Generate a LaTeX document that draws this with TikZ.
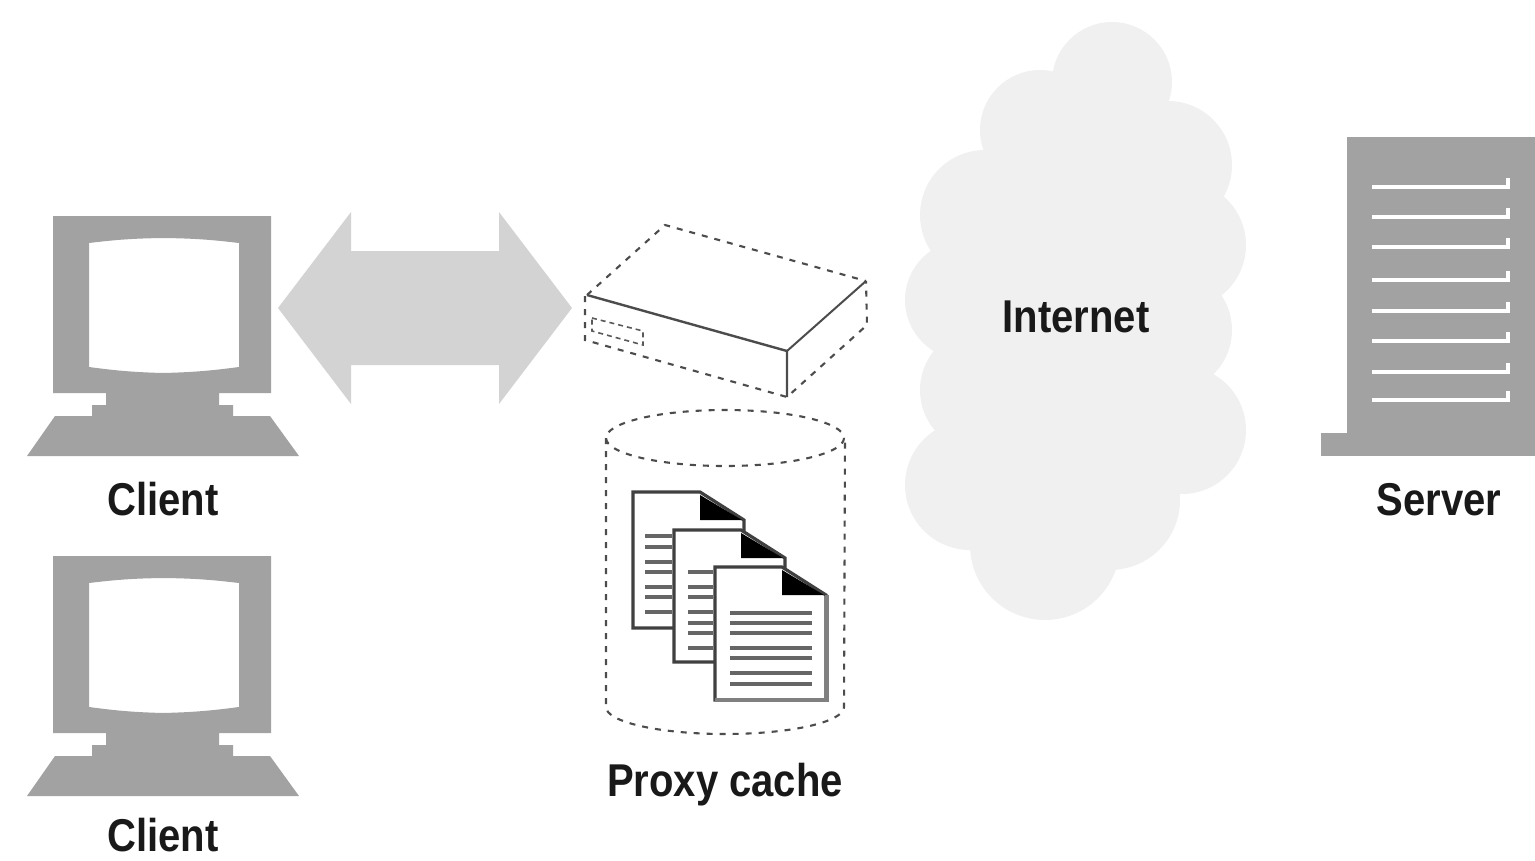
\documentclass[tikz,border=0pt]{standalone}
\usepackage{fontspec}
\newfontfamily\labelfont[FakeStretch=0.87]{Liberation Sans Bold}
\usepackage{tikz}
\usetikzlibrary{positioning}
\definecolor{mygray}{HTML}{A2A2A2}
\definecolor{myarrow}{HTML}{D3D3D3}
\definecolor{mycloud}{HTML}{F0F0F0}
\tikzset{
	label text/.style={font=\labelfont\fontsize{46}{46}\selectfont,inner sep=0pt,text=black!90},
	dash line/.style={line width=2.1pt,dash pattern=on 6pt off 7pt,color=black!70},
	solid edge/.style={line width=2.4pt,color=black!70},
	page edge/.style={line width=3.2pt,draw=black!75,fill=white},
	text bar/.style={line width=3.4pt,color=black!60},
}
\begin{document}
\begin{tikzpicture}[x=1pt,y=-1pt]
	\useasboundingbox (0,0) rectangle (1535,860);
	% clients
	\foreach \dy/\ly/\name in {0/499/clientone,340/495/clienttwo} {
		\begin{scope}[yshift=-\dy pt]
			\fill [mygray,even odd rule] (53,216) -- (271,216) -- (271,393) -- (219,393) -- (219,405) -- (233,405) -- (233,416) -- (270,416) -- (299,456) -- (27,456) -- (55,416) -- (92,416) -- (92,405) -- (106,405) -- (106,393) -- (53,393) -- cycle
				(89,243) to [bend left=3] (163,238) to [bend left=3] (239,243) -- (239,367) to [bend left=3] (163,373) to [bend left=3] (89,367) -- cycle;
			\node [label text] (\name) at (163,\ly) {Client};
		\end{scope}
	}
	% double arrow
	\fill [myarrow] (278,308) -- (351,212) -- (351,251) -- (499,251) -- (499,212) -- (572,308) -- (499,404) -- (499,365) -- (351,365) -- (351,404) -- cycle;
	% proxy box
	\draw [dash line] (587,295) -- (665,225) -- (866,281);
	\draw [dash line] (585,296) -- (585,340) -- (787,397) -- (867,325) -- (866,281);
	\draw [solid edge] (587,295) -- (787,351) -- (787,397);
	\draw [solid edge,line width=2pt] (787,351) -- (866,281);
	\draw [line width=1.6pt,dash pattern=on 5pt off 4pt,color=black!65] (592,318) -- (643,331) -- (643,345) -- (592,331) -- cycle;
	% cache cylinder
	\draw [dash line] (725,438) ellipse [x radius=119,y radius=28];
	\draw [dash line] (606,438) -- (606,707) arc [start angle=180,end angle=360,x radius=119,y radius=-27] -- (845,438);
	% pages
	\foreach \x/\y/\h in {0/0/136,41/38/132,82/75/133} {
		\begin{scope}[xshift=\x pt,yshift=-\y pt]
			\filldraw [page edge] (633,492) -- (700,492) -- (744,520) -- (744,492+\h) -- (633,492+\h) -- cycle;
			\fill [black] (700,495) -- (742,520) -- (700,520) -- cycle;
		\end{scope}
	}
	\draw [draw=black!50,line width=3.4pt] (715,700) -- (827,700) -- (827,595);
	\foreach \y in {536,547,562,572,587,597,612}
		\draw [text bar] (645,\y) -- (672,\y);
	\foreach \y in {572,587,597,612,623,633,648}
		\draw [text bar] (688,\y) -- (713,\y);
	\foreach \y in {613,623,633,648,658,673,684}
		\draw [text bar] (730,\y) -- (812,\y);
	% cloud
	\fill [mycloud] (1000,130) rectangle (1160,540);
	\fill [mycloud] (940,200) rectangle (1200,480);
	\foreach \x/\y/\r in {1112/82/60,1040/130/60,1168/165/64,985/215/65,1182/245/64,965/300/60,1170/330/62,982/390/62,1182/430/64,970/485/65,1110/500/70,1045/545/75}
		\fill [mycloud] (\x,\y) circle (\r pt);
	\node [label text] (internet) at (1076,317) {Internet};
	% server
	\fill [mygray] (1347,137) rectangle (1535,436);
	\fill [mygray] (1321,433) rectangle (1535,456);
	\foreach \y in {187,217,247,280,311,341,372,400}
		\draw [white,line width=4.5pt] (1372,\y) -- (1508,\y) -- (1508,\y-9);
	\node [label text] (server) at (1439,500) {Server};
	\node [label text] (proxy) at (725,785) {Proxy cache};
\end{tikzpicture}
\end{document}
